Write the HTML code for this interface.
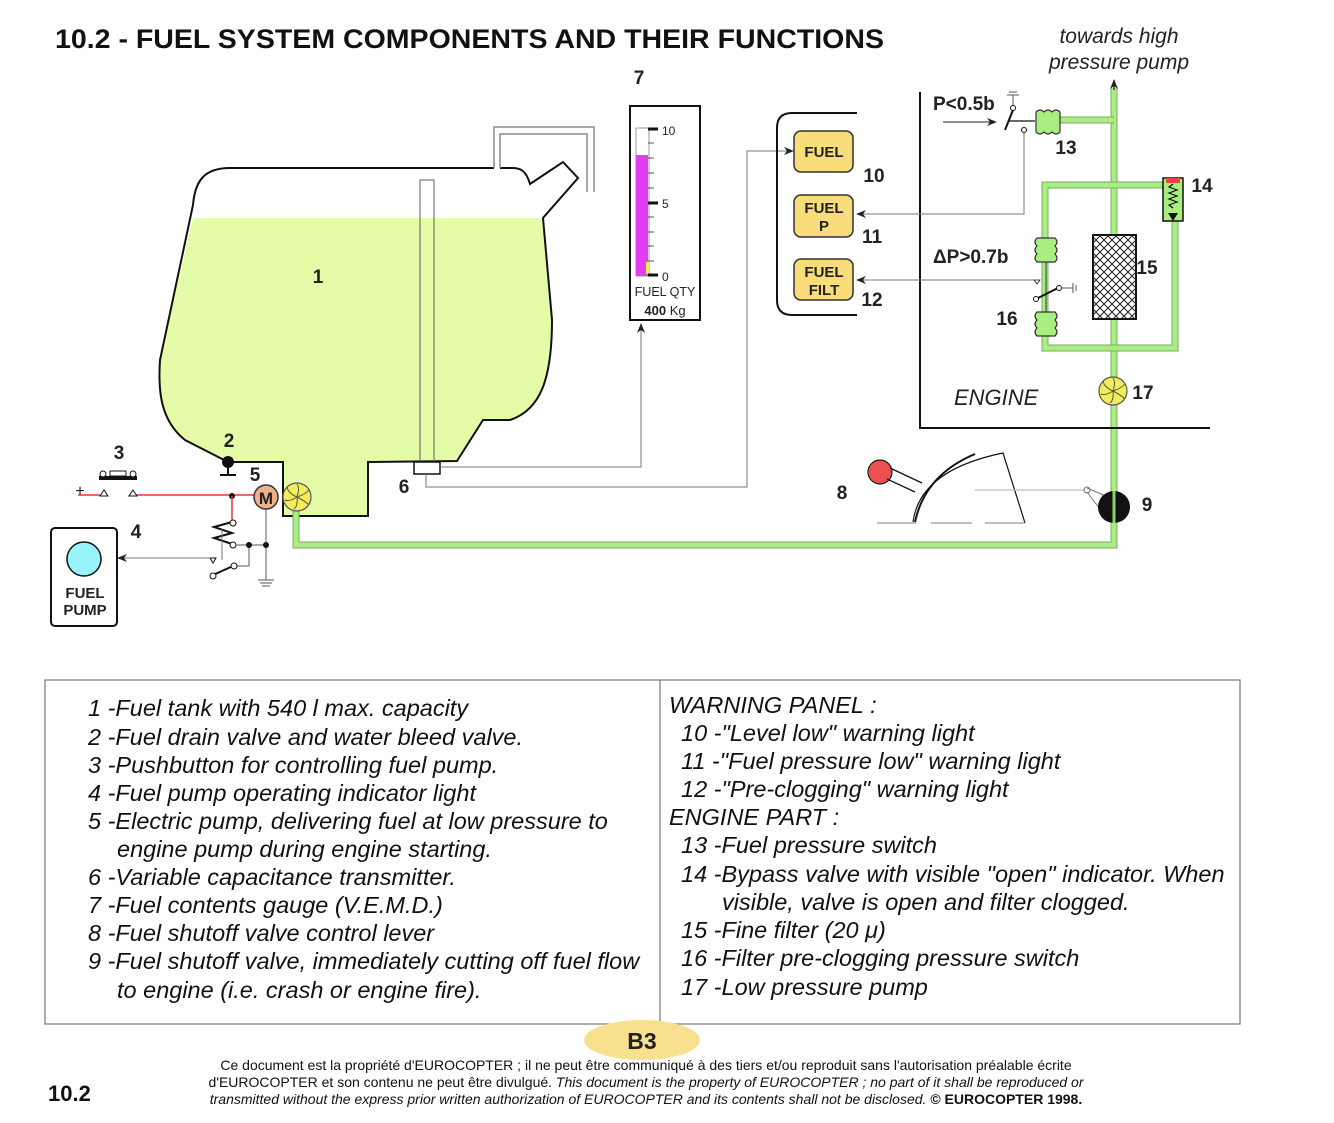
<!DOCTYPE html>
<html><head><meta charset="utf-8"><style>
body{margin:0;background:#fff;width:1334px;height:1123px;overflow:hidden;font-family:"Liberation Sans",sans-serif}
svg{position:absolute;left:0;top:0}
</style></head><body>
<svg width="1334" height="1123" viewBox="0 0 1334 1123" font-family="Liberation Sans, sans-serif">
<defs>
<pattern id="hatch" width="8" height="8" patternUnits="userSpaceOnUse">
<path d="M0 0L8 8M8 0L0 8" stroke="#222" stroke-width="1"/>
</pattern>
<marker id="ar" markerWidth="10" markerHeight="8" refX="9" refY="4" orient="auto" markerUnits="userSpaceOnUse"><path d="M0 0L10 4L0 8L3 4Z" fill="#222"/></marker>
</defs>
<text x="55" y="48" font-size="27" font-weight="bold" fill="#111" textLength="829" lengthAdjust="spacingAndGlyphs">10.2 -  FUEL SYSTEM COMPONENTS AND THEIR FUNCTIONS</text>
<text x="1119" y="43" font-size="21" font-style="italic" text-anchor="middle" fill="#222">towards high</text>
<text x="1119" y="69" font-size="21" font-style="italic" text-anchor="middle" fill="#222">pressure pump</text>

<!-- tank fill -->
<path d="M193 218 L543 218 L552 320 C552 380 540 410 510 420 L483 420 L457 461 L368 462 L368 516 L283 516 L283 462 L228 462 L185 440 C160 420 158 390 160 360 Z" fill="#e4fba8"/>
<path d="M494 168 L230 168 C205 168 195 180 193 205 L160 360 C158 390 160 420 185 440 L228 462 L283 462 L283 516 L368 516 L368 462 L457 461 L483 420 L510 420 C540 410 552 380 552 320 L543 218 L578 178 L563 162 L530 184 C526 170 520 168 512 168 L500 168" fill="none" stroke="#111" stroke-width="2"/>
<path d="M494 168 V127 H594 V192 M500 168 V134 H587 V192" fill="none" stroke="#888" stroke-width="1.5"/>
<rect x="420" y="180" width="14" height="282" fill="none" stroke="#777" stroke-width="1.2"/>
<rect x="414" y="462" width="26" height="12" fill="#fff" stroke="#111" stroke-width="1.5"/>
<text x="318" y="283" font-size="19" font-weight="bold" fill="#222" text-anchor="middle">1</text>

<!-- item 2 drain -->
<circle cx="228" cy="462" r="6" fill="#111"/>
<path d="M228 462 V475 M220 475 H236" stroke="#111" stroke-width="2"/>
<text x="229" y="447" font-size="19" font-weight="bold" fill="#222" text-anchor="middle">2</text>
<text x="255" y="481" font-size="19" font-weight="bold" fill="#222" text-anchor="middle">5</text>
<text x="119" y="459" font-size="19" font-weight="bold" fill="#222" text-anchor="middle">3</text>
<text x="136" y="538" font-size="19" font-weight="bold" fill="#222" text-anchor="middle">4</text>
<text x="404" y="493" font-size="19" font-weight="bold" fill="#222" text-anchor="middle">6</text>
<text x="639" y="84" font-size="19" font-weight="bold" fill="#222" text-anchor="middle">7</text>
<text x="842" y="499" font-size="19" font-weight="bold" fill="#222" text-anchor="middle">8</text>
<text x="1147" y="511" font-size="19" font-weight="bold" fill="#222" text-anchor="middle">9</text>

<!-- electrical -->
<text x="80" y="496" font-size="16" fill="#222" text-anchor="middle">+</text>
<path d="M78 495 H100 M137 495 H255" stroke="#e33" stroke-width="1.5"/>
<path d="M100 496 L104 490 L108 496Z M129 496 L133 490 L137 496Z" fill="#fff" stroke="#111"/>
<rect x="99" y="476" width="38" height="4" fill="#111"/>
<circle cx="103" cy="474" r="3" fill="#fff" stroke="#111"/><circle cx="133" cy="474" r="3" fill="#fff" stroke="#111"/>
<rect x="110" y="471" width="16" height="5" fill="#fff" stroke="#111"/>
<circle cx="232" cy="496" r="3" fill="#111"/>
<path d="M232 496 V520" stroke="#e33" stroke-width="1.5"/>
<path d="M232 522 L214 527 L232 533 L214 538 L232 544" fill="none" stroke="#111" stroke-width="2"/>
<circle cx="233" cy="523" r="3" fill="#fff" stroke="#111"/><circle cx="233" cy="545" r="3" fill="#fff" stroke="#111"/>
<path d="M236 545 H266 M249 545 V566 H236 M266 505 V580 M258 580 H274 M260 583 H272 M262 586 H270" stroke="#777" stroke-width="1.2" fill="none"/>
<circle cx="249" cy="545" r="3" fill="#111"/><circle cx="266" cy="545" r="3" fill="#111"/>
<path d="M222 529 V560" stroke="#777" stroke-width="1"/>
<path d="M213 575 L233 566" stroke="#111" stroke-width="2"/>
<circle cx="213" cy="576" r="3" fill="#fff" stroke="#111"/><circle cx="234" cy="566" r="3" fill="#fff" stroke="#111"/>
<path d="M210 558 L216 558 L213 563Z" fill="#fff" stroke="#111"/>
<path d="M210 558 H118" stroke="#777" stroke-width="1" marker-end="url(#ar)"/>
<circle cx="266" cy="497" r="12" fill="#f1b08c" stroke="#333" stroke-width="1.5"/>
<text x="266" y="504" font-size="17" font-weight="bold" fill="#222" text-anchor="middle">M</text>

<!-- fuel pump indicator box -->
<rect x="51" y="528" width="66" height="98" rx="4" fill="#fff" stroke="#111" stroke-width="2"/>
<circle cx="84" cy="559" r="17" fill="#99f3fb" stroke="#111" stroke-width="1.5"/>
<text x="85" y="598" font-size="15" font-weight="bold" fill="#222" text-anchor="middle">FUEL</text>
<text x="85" y="615" font-size="15" font-weight="bold" fill="#222" text-anchor="middle">PUMP</text>

<!-- green fuel line -->
<path d="M296 505 V545 H1114 V88" fill="none" stroke="#7fa86a" stroke-width="7"/>
<path d="M296 505 V545 H1114 V88" fill="none" stroke="#a8ee80" stroke-width="5"/>
<path d="M1114 90 V80" stroke="#111" stroke-width="1.2" marker-end="url(#ar)"/>
<path d="M1114 185 H1045 V348 H1175 V220 M1114 185 H1175" fill="none" stroke="#7fa86a" stroke-width="7"/>
<path d="M1114 185 H1045 V348 H1175 V220 M1114 185 H1175" fill="none" stroke="#a8ee80" stroke-width="5"/>
<path d="M1114 120 H1055" stroke="#7fa86a" stroke-width="7"/><path d="M1114 120 H1055" stroke="#a8ee80" stroke-width="5"/>

<!-- pump 5 impeller and 17 -->
<g id="imp"><circle cx="297" cy="497" r="14" fill="#f3ee56" stroke="#555" stroke-width="1.2"/>
<g stroke="#555" stroke-width="1" fill="none"><path d="M297 497 Q300 488 297 484"/><path d="M297 497 Q306 494 309 490"/><path d="M297 497 Q305 501 309 505"/><path d="M297 497 Q298 506 294 509"/><path d="M297 497 Q289 502 285 500"/><path d="M297 497 Q288 493 287 487"/></g></g>
<g transform="translate(816 -106)"><use href="#imp"/></g>
<text x="1143" y="399" font-size="19" font-weight="bold" fill="#222" text-anchor="middle">17</text>

<!-- gauge 7 -->
<rect x="630" y="106" width="70" height="214" fill="#fff" stroke="#111" stroke-width="2"/>
<rect x="636" y="128" width="13" height="148" fill="#fff" stroke="#999" stroke-width="1"/>
<rect x="636" y="155" width="12" height="121" fill="#e43cf2"/>
<rect x="646" y="262" width="3" height="12" fill="#f4f05a"/>
<g stroke="#555" stroke-width="1"><path d="M648 143 h6 M648 158 h6 M648 173 h6 M648 188 h6 M648 217 h6 M648 232 h6 M648 246 h6 M648 261 h6"/></g>
<g stroke="#111" stroke-width="3"><path d="M648 129 h10 M648 203 h10 M648 275 h10"/></g>
<text x="662" y="135" font-size="12" fill="#222">10</text>
<text x="662" y="208" font-size="12" fill="#222">5</text>
<text x="662" y="281" font-size="12" fill="#222">0</text>
<text x="665" y="296" font-size="12.5" fill="#222" text-anchor="middle">FUEL QTY</text>
<text x="665" y="315" font-size="13" fill="#222" text-anchor="middle"><tspan font-weight="bold">400</tspan> Kg</text>
<path d="M440 467 H641 V324" fill="none" stroke="#777" stroke-width="1" marker-end="url(#ar)"/>
<path d="M426 474 V487 H747 V151 H793" fill="none" stroke="#777" stroke-width="1" marker-end="url(#ar)"/>

<!-- warning panel -->
<path d="M857 113 H792 Q777 113 777 128 V300 Q777 315 792 315 H857" fill="none" stroke="#111" stroke-width="2"/>
<g fill="#f9dd7a" stroke="#333" stroke-width="1.5">
<rect x="794" y="131" width="59" height="41" rx="7"/>
<rect x="794" y="195" width="59" height="42" rx="7"/>
<rect x="794" y="259" width="59" height="41" rx="7"/></g>
<g font-size="15" font-weight="bold" fill="#222" text-anchor="middle">
<text x="824" y="157">FUEL</text>
<text x="824" y="213">FUEL</text><text x="824" y="231">P</text>
<text x="824" y="277">FUEL</text><text x="824" y="295">FILT</text></g>
<g font-size="19" font-weight="bold" fill="#222" text-anchor="middle">
<text x="874" y="182">10</text><text x="872" y="243">11</text><text x="872" y="306">12</text>
<text x="1066" y="154">13</text><text x="1202" y="192">14</text><text x="1147" y="274">15</text><text x="1007" y="325">16</text></g>

<!-- engine area -->
<path d="M920 92 V428 H1210" fill="none" stroke="#111" stroke-width="2"/>
<text x="954" y="405" font-size="22" font-style="italic" fill="#222">ENGINE</text>
<text x="933" y="110" font-size="19" font-weight="bold" fill="#222">P&lt;0.5b</text>
<text x="933" y="263" font-size="19" font-weight="bold" fill="#222">ΔP&gt;0.7b</text>
<path d="M943 122 H996" stroke="#222" stroke-width="1" marker-end="url(#ar)"/>
<path d="M1013 106 V95 M1007 95 H1019 M1009 92 H1017" stroke="#555" stroke-width="1"/>
<circle cx="1013" cy="108" r="2.5" fill="#fff" stroke="#111"/>
<path d="M1013 110 L1005 130" stroke="#111" stroke-width="2"/>
<path d="M1009 121 H1035" stroke="#111" stroke-width="1.2"/>
<circle cx="1024" cy="130" r="2.5" fill="#fff" stroke="#111"/>
<path d="M1024 133 V214 H857" fill="none" stroke="#777" stroke-width="1" marker-end="url(#ar)"/>
<path d="M1036 112 q4 -4 8 0 q4 -4 8 0 q4 -4 8 0 v20 q-4 4 -8 0 q-4 4 -8 0 q-4 4 -8 0Z" fill="#a8ee80" stroke="#333" stroke-width="1.2"/>
<path d="M1037 238 q-4 4 0 8 q-4 4 0 8 q-4 4 0 8 h18 q4 -4 0 -8 q4 -4 0 -8 q4 -4 0 -8Z" fill="#a8ee80" stroke="#333" stroke-width="1.2"/>
<path d="M1037 312 q-4 4 0 8 q-4 4 0 8 q-4 4 0 8 h18 q4 -4 0 -8 q4 -4 0 -8 q4 -4 0 -8Z" fill="#a8ee80" stroke="#333" stroke-width="1.2"/>
<path d="M1046 262 V312" stroke="#333" stroke-width="1"/>
<path d="M1036 299 L1058 288" stroke="#111" stroke-width="2"/>
<circle cx="1036" cy="299" r="2.5" fill="#fff" stroke="#111"/><circle cx="1059" cy="288" r="2.5" fill="#fff" stroke="#111"/>
<path d="M1061 288 H1073 M1073 283 V293 M1076 285 V291" stroke="#555" stroke-width="1"/>
<path d="M1034 280 L1040 280 L1037 284Z" fill="#fff" stroke="#111" stroke-width="0.8"/>
<path d="M1034 280 H857" stroke="#777" stroke-width="1" marker-end="url(#ar)"/>
<rect x="1093" y="235" width="43" height="84" fill="#fff" stroke="#111" stroke-width="2"/>
<rect x="1093" y="235" width="43" height="84" fill="url(#hatch)"/>
<rect x="1163" y="178" width="20" height="43" fill="#a8ee80" stroke="#111" stroke-width="1.5"/>
<rect x="1166" y="178" width="14" height="5" fill="#e84444"/>
<path d="M1173 184 l-4 3 l8 3 l-8 3 l8 3 l-8 3 l8 3 l-8 3 l4 3" fill="none" stroke="#111" stroke-width="1.2"/>
<path d="M1168 213 h10 l-5 8z" fill="#111"/>

<!-- lever 8 -->
<circle cx="880" cy="472" r="12" fill="#ec5050" stroke="#222" stroke-width="1.2"/>
<path d="M890 468 L922 483 M887 479 L915 492" stroke="#111" stroke-width="1.3"/>
<path d="M915 522 Q925 475 975 454" fill="none" stroke="#111" stroke-width="2"/>
<path d="M913 522 Q920 470 1003 453 L1025 523" fill="none" stroke="#111" stroke-width="1.2"/>
<path d="M877 523 H916 M931 523 H972 M985 523 H1025" stroke="#999" stroke-width="1.2"/>
<path d="M975 490 H1084" stroke="#bbb" stroke-width="1.2"/>
<circle cx="1087" cy="490" r="3" fill="#fff" stroke="#777"/>
<path d="M1087 488 L1108 497 M1087 492 L1103 513" stroke="#777" stroke-width="1"/>
<circle cx="1114" cy="507" r="16" fill="#111"/>
<path d="M1114 491 V523" stroke="#8ad464" stroke-width="3"/>

<!-- table -->
<rect x="45" y="680" width="1195" height="344" fill="none" stroke="#777" stroke-width="1.2"/>
<path d="M660 680 V1024" stroke="#777" stroke-width="1.2"/>
<g font-size="23.5" font-style="italic" fill="#111">
<text x="88" y="716">1 -Fuel tank with 540 l max. capacity</text>
<text x="88" y="745">2 -Fuel drain valve and water bleed valve.</text>
<text x="88" y="773">3 -Pushbutton for controlling fuel pump.</text>
<text x="88" y="801">4 -Fuel pump operating indicator light</text>
<text x="88" y="829">5 -Electric pump, delivering fuel at low pressure to</text>
<text x="117" y="857">engine pump during engine starting.</text>
<text x="88" y="885">6 -Variable capacitance transmitter.</text>
<text x="88" y="913">7 -Fuel contents gauge (V.E.M.D.)</text>
<text x="88" y="941">8 -Fuel shutoff valve control lever</text>
<text x="88" y="969">9 -Fuel shutoff valve, immediately cutting off fuel flow</text>
<text x="117" y="998">to engine (i.e. crash or engine fire).</text>
<text x="669" y="713">WARNING PANEL :</text>
<text x="681" y="741">10 -"Level low" warning light</text>
<text x="681" y="769">11 -"Fuel pressure low" warning light</text>
<text x="681" y="797">12 -"Pre-clogging" warning light</text>
<text x="669" y="825">ENGINE PART :</text>
<text x="681" y="853">13 -Fuel pressure switch</text>
<text x="681" y="882">14 -Bypass valve with visible "open" indicator. When</text>
<text x="722" y="910">visible, valve is open and filter clogged.</text>
<text x="681" y="938">15 -Fine filter (20 μ)</text>
<text x="681" y="966">16 -Filter pre-clogging pressure switch</text>
<text x="681" y="995">17 -Low pressure pump</text>
</g>
<ellipse cx="642" cy="1040" rx="58" ry="20" fill="#f9e08f"/>
<text x="642" y="1049" font-size="23" font-weight="bold" fill="#222" text-anchor="middle">B3</text>
<text x="48" y="1101" font-size="22" font-weight="bold" fill="#111">10.2</text>
<g font-size="14" fill="#111" text-anchor="middle">
<text x="646" y="1070">Ce document est la propriété d'EUROCOPTER ; il ne peut être communiqué à des tiers et/ou reproduit sans l'autorisation préalable écrite</text>
<text x="646" y="1087">d'EUROCOPTER et son contenu ne peut être divulgué. <tspan font-style="italic">This document is the property of EUROCOPTER ; no part of it shall be reproduced or</tspan></text>
<text x="646" y="1104"><tspan font-style="italic">transmitted without the express prior written authorization of EUROCOPTER and its contents shall not be disclosed.</tspan> <tspan font-weight="bold">© EUROCOPTER 1998.</tspan></text>
</g>
</svg>
</body></html>
